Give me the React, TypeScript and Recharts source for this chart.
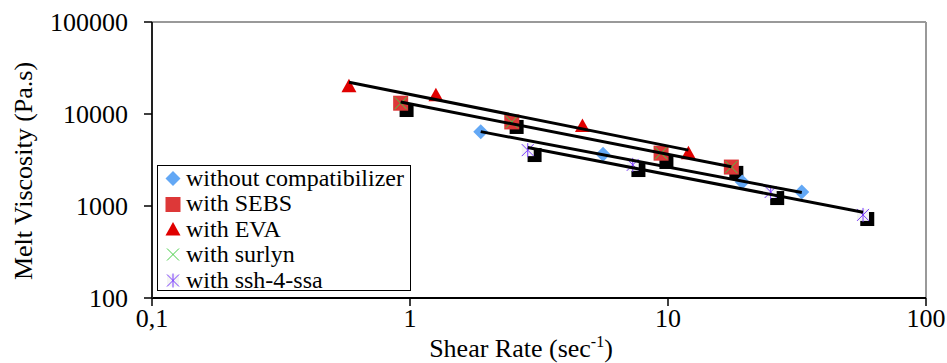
import { ScatterChart, Scatter, XAxis, YAxis, ReferenceLine } from 'recharts'

const shearWithout = [1.88, 5.6, 19.4, 33]
const viscWithout = [6400, 3650, 1820, 1420]
const shearSEBS = [0.92, 2.48, 9.4, 17.6]
const viscSEBS = [13100, 8200, 3750, 2650]
const shearEVA = [0.58, 1.26, 4.66, 12.0]
const viscEVA = [20000, 16000, 7400, 3750]
const shearSurlyn = [0.92, 2.48, 9.4, 17.6]
const viscSurlyn = [13100, 8200, 3750, 2650]
const shearSsh = [2.86, 7.3, 25, 57]
const viscSsh = [4050, 2800, 1420, 800]
// black squares without a legend entry
const shearBlack = [0.97, 2.59, 3.04, 7.68, 9.86, 18.4, 26.5, 59.2]
const viscBlack = [11050, 7230, 3580, 2460, 3010, 2290, 1220, 722]

const xTicks = [0.1, 1, 10, 100]
const yTicks = [100, 1000, 10000, 100000]

const FONT = '"Liberation Serif", "Times New Roman", serif'
const BLUE = '#63a8f5'
const RED_SQ = '#dd3838'
const RED_TRI = '#e00000'
const GREEN = '#44cc44'
const PURPLE = '#7a3cff'

const pts = (xs: number[], ys: number[]) => xs.map((x, i) => ({ x, y: ys[i] }))

// power-law trendline (least squares in log-log), first to last x
function trend(xs: number[], ys: number[]) {
  const lx = xs.map(Math.log10)
  const ly = ys.map(Math.log10)
  const n = lx.length
  const mx = lx.reduce((a, b) => a + b, 0) / n
  const my = ly.reduce((a, b) => a + b, 0) / n
  let sxy = 0
  let sxx = 0
  lx.forEach((v, i) => {
    sxy += (v - mx) * (ly[i] - my)
    sxx += (v - mx) * (v - mx)
  })
  const b = sxy / sxx
  const at = (x: number) => Math.pow(10, my + b * (Math.log10(x) - mx))
  const x0 = xs[0]
  const x1 = xs[n - 1]
  return [{ x: x0, y: at(x0) }, { x: x1, y: at(x1) }]
}

const Diamond = ({ cx, cy }: any) => (
  <path d={`M${cx},${cy - 7.5}L${cx + 7.5},${cy}L${cx},${cy + 7.5}L${cx - 7.5},${cy}Z`} fill={BLUE} />
)
const Square = ({ cx, cy }: any) => <rect x={cx - 7.5} y={cy - 7.5} width={15} height={15} fill={RED_SQ} />
const BlackSquare = ({ cx, cy }: any) => <rect x={cx - 7} y={cy - 7} width={14} height={14} fill="#000" />
const Triangle = ({ cx, cy }: any) => (
  <path d={`M${cx},${cy - 7.5}L${cx + 7.5},${cy + 6}L${cx - 7.5},${cy + 6}Z`} fill={RED_TRI} />
)
const Cross = ({ cx, cy }: any) => (
  <path d={`M${cx - 6},${cy - 6}L${cx + 6},${cy + 6}M${cx + 6},${cy - 6}L${cx - 6},${cy + 6}`} stroke={GREEN} strokeWidth={1} />
)
const Star = ({ cx, cy }: any) => (
  <g>
    <rect x={cx - 6} y={cy - 6} width={12} height={12} fill="#f4f4f4" />
    <path
      d={`M${cx - 6},${cy - 6}L${cx + 6},${cy + 6}M${cx + 6},${cy - 6}L${cx - 6},${cy + 6}M${cx},${cy - 7}L${cx},${cy + 7}`}
      stroke={PURPLE}
      strokeWidth={1}
    />
  </g>
)
const Nothing = () => <g />

const legendItems = [
  { label: 'without compatibilizer', Mark: Diamond },
  { label: 'with SEBS', Mark: Square },
  { label: 'with EVA', Mark: Triangle },
  { label: 'with surlyn', Mark: Cross },
  { label: 'with ssh-4-ssa', Mark: Star },
]

const XTitle = () => (
  <text x={521} y={357} textAnchor="middle" fontSize={26} fontFamily={FONT} fill="#000">
    Shear Rate (sec
    <tspan fontSize={16} dy={-10}>-1</tspan>
    <tspan dy={10}>)</tspan>
  </text>
)
const YTitle = () => (
  <text
    x={23}
    y={171}
    transform="rotate(-90, 23, 171)"
    textAnchor="middle"
    dominantBaseline="central"
    fontSize={26}
    fontFamily={FONT}
    fill="#000"
  >
    Melt Viscosity (Pa.s)
  </text>
)

const lineStyle = { stroke: '#000', strokeWidth: 3 }

export default function App() {
  return (
    <div style={{ position: 'absolute', left: 0, top: 0, width: 947, height: 363, background: '#fff' }}>
      <ScatterChart width={947} height={363} margin={{ top: 22, right: 21, bottom: 0, left: 0 }}>
        <XAxis
          type="number"
          dataKey="x"
          scale="log"
          domain={[0.1, 100]}
          ticks={xTicks}
          interval={0}
          allowDataOverflow
          height={65}
          tickSize={8}
          tickMargin={3}
          tickFormatter={(v: number) => (v === 0.1 ? '0,1' : String(v))}
          tick={{ fill: '#000', fontSize: 26, fontFamily: FONT }}
          axisLine={{ stroke: '#000', strokeWidth: 2 }}
          tickLine={{ stroke: '#000', strokeWidth: 1.5 }}
          label={{ content: () => <XTitle /> }}
        />
        <YAxis
          type="number"
          dataKey="y"
          scale="log"
          domain={[100, 100000]}
          ticks={yTicks}
          interval={0}
          allowDataOverflow
          width={152}
          tickSize={8}
          tickMargin={16}
          tickFormatter={(v: number) => String(v)}
          tick={{ fill: '#000', fontSize: 26, fontFamily: FONT }}
          axisLine={{ stroke: '#222', strokeWidth: 2 }}
          tickLine={{ stroke: '#000', strokeWidth: 1.5 }}
          label={{ content: () => <YTitle /> }}
        />
        <ReferenceLine y={100000} stroke="#999" strokeWidth={2} />
        <ReferenceLine x={100} stroke="#999" strokeWidth={2} />
        <Scatter data={pts(shearBlack, viscBlack)} shape={BlackSquare} isAnimationActive={false} legendType="none" />
        <Scatter name="without compatibilizer" data={pts(shearWithout, viscWithout)} shape={Diamond} isAnimationActive={false} />
        <Scatter name="with SEBS" data={pts(shearSEBS, viscSEBS)} shape={Square} isAnimationActive={false} />
        <Scatter name="with EVA" data={pts(shearEVA, viscEVA)} shape={Triangle} isAnimationActive={false} />
        <Scatter name="with surlyn" data={pts(shearSurlyn, viscSurlyn)} shape={Cross} isAnimationActive={false} />
        <Scatter name="with ssh-4-ssa" data={pts(shearSsh, viscSsh)} shape={Star} isAnimationActive={false} />
        <Scatter data={trend(shearEVA, viscEVA)} line={lineStyle} shape={Nothing} isAnimationActive={false} legendType="none" />
        <Scatter data={trend(shearSEBS, viscSEBS)} line={lineStyle} shape={Nothing} isAnimationActive={false} legendType="none" />
        <Scatter data={trend(shearWithout, viscWithout)} line={lineStyle} shape={Nothing} isAnimationActive={false} legendType="none" />
        <Scatter data={trend(shearSsh, viscSsh)} line={lineStyle} shape={Nothing} isAnimationActive={false} legendType="none" />
      </ScatterChart>
      <div
        style={{
          position: 'absolute',
          left: 157,
          top: 165,
          width: 254,
          height: 126,
          boxSizing: 'border-box',
          border: '1px solid #000',
          background: '#fff',
          fontFamily: FONT,
          fontSize: 24,
          color: '#000',
        }}
      >
        {legendItems.map(({ label, Mark }) => (
          <div key={label} style={{ height: 25.4, lineHeight: '25.4px', display: 'flex', alignItems: 'center' }}>
            <svg width={28} height={25} style={{ flex: 'none' }}>
              <Mark cx={15} cy={12.5} />
            </svg>
            <span style={{ whiteSpace: 'nowrap' }}>{label}</span>
          </div>
        ))}
      </div>
    </div>
  )
}
